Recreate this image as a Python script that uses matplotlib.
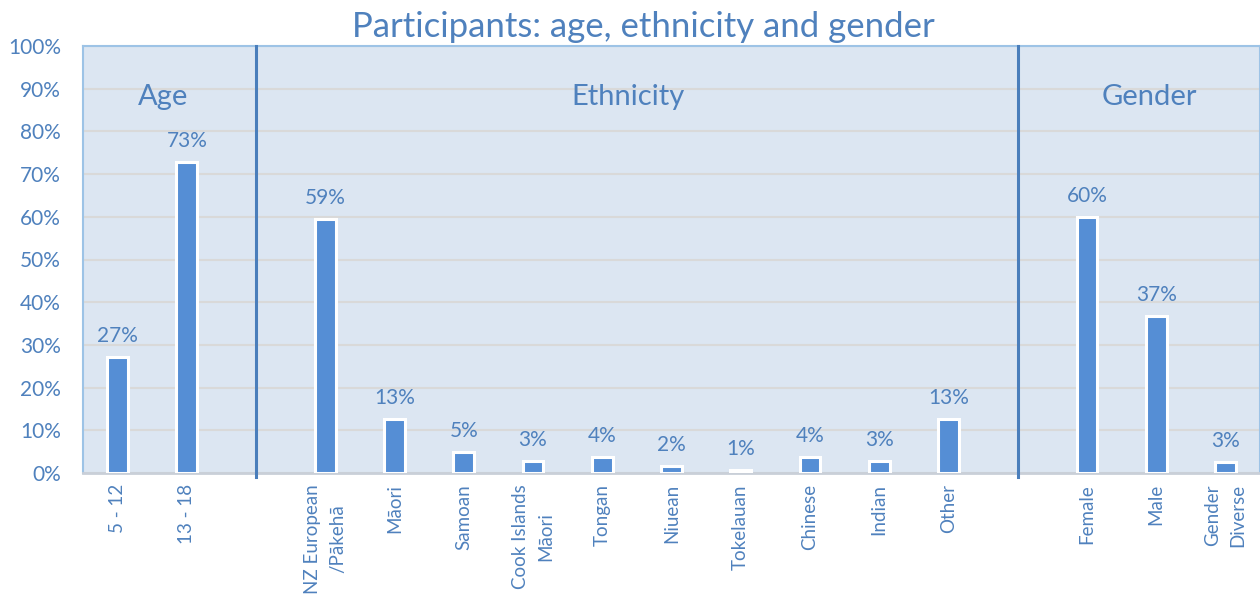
import matplotlib
matplotlib.use("Agg")
import matplotlib.pyplot as plt
import numpy as np

title = "Participants: age, ethnicity and gender"
group_names = ["Age", "Ethnicity", "Gender"]

age_labels = ["5 - 12", "13 - 18"]
age_values = [27.2, 72.8]

eth_labels = ["NZ European\n/Pākehā", "Māori", "Samoan", "Cook Islands\nMāori", "Tongan",
              "Niuean", "Tokelauan", "Chinese", "Indian", "Other"]
eth_values = [59.4, 12.7, 4.9, 2.8, 3.7, 1.6, 0.7, 3.8, 2.9, 12.7]

gender_labels = ["Female", "Male", "Gender\nDiverse"]
gender_values = [60.0, 36.8, 2.6]

plt.rcParams['font.family'] = ['Lato', 'DejaVu Sans']
TXT = '#4F81BD'
BAR = '#558ED5'

fig = plt.figure(figsize=(12.6, 5.97), dpi=100)
ax = fig.add_axes([83/1260, 1-473/597, 1-83/1260, (473-46)/597])
ax.set_facecolor('#DCE6F2')

groups = [(age_labels, age_values), (eth_labels, eth_values), (gender_labels, gender_values)]
positions, labels, values, seps = [], [], [], []
pos = 0
for gi, (lab, val) in enumerate(groups):
    for l, v in zip(lab, val):
        positions.append(pos); labels.append(l); values.append(v)
        pos += 1
    if gi < len(groups) - 1:
        seps.append(pos)
        pos += 1

ax.set_xlim(-0.5, pos - 0.5)
ax.set_ylim(0, 100)

ax.yaxis.grid(True, color='#D9D9D9', linewidth=1.5, zorder=0)
ax.set_axisbelow(True)

ax.bar(positions, values, width=0.3, color=BAR, edgecolor='white', linewidth=2.2, zorder=3)
for x, v in zip(positions, values):
    ax.annotate(f"{round(v):d}%", (x, v), xytext=(0, 8), textcoords='offset points',
                ha='center', va='bottom', fontsize=15, color=TXT)

for s in seps:
    ax.plot([s, s], [-1, 100], color='#4A7EBB', linewidth=2.2, clip_on=False, zorder=4)

group_x = [0.66, 7.37, 14.9]
for name, gx in zip(group_names, group_x):
    ax.text(gx, 88, name, ha='center', va='center', fontsize=21, color=TXT)

ax.set_xticks(positions)
ax.set_xticklabels(labels, rotation=90, fontsize=13.5, color=TXT, ha='center', va='top',
                   multialignment='center', linespacing=1.55)
ax.tick_params(axis='x', length=0, pad=8)
ax.set_yticks(np.arange(0, 101, 10))
ax.set_yticklabels([f"{t}%" for t in range(0, 101, 10)], fontsize=15, color=TXT)
ax.tick_params(axis='y', length=0, pad=16)

for sp in ['left', 'top', 'right']:
    ax.spines[sp].set_color('#9DC3E6')
    ax.spines[sp].set_linewidth(1.5)
ax.spines['bottom'].set_color('#C9CFD8')
ax.spines['bottom'].set_linewidth(2)

fig.text(643/1260, 1-27/597, title, ha='center', va='center', fontsize=25, color=TXT)

fig.savefig("out.png", dpi=100)
